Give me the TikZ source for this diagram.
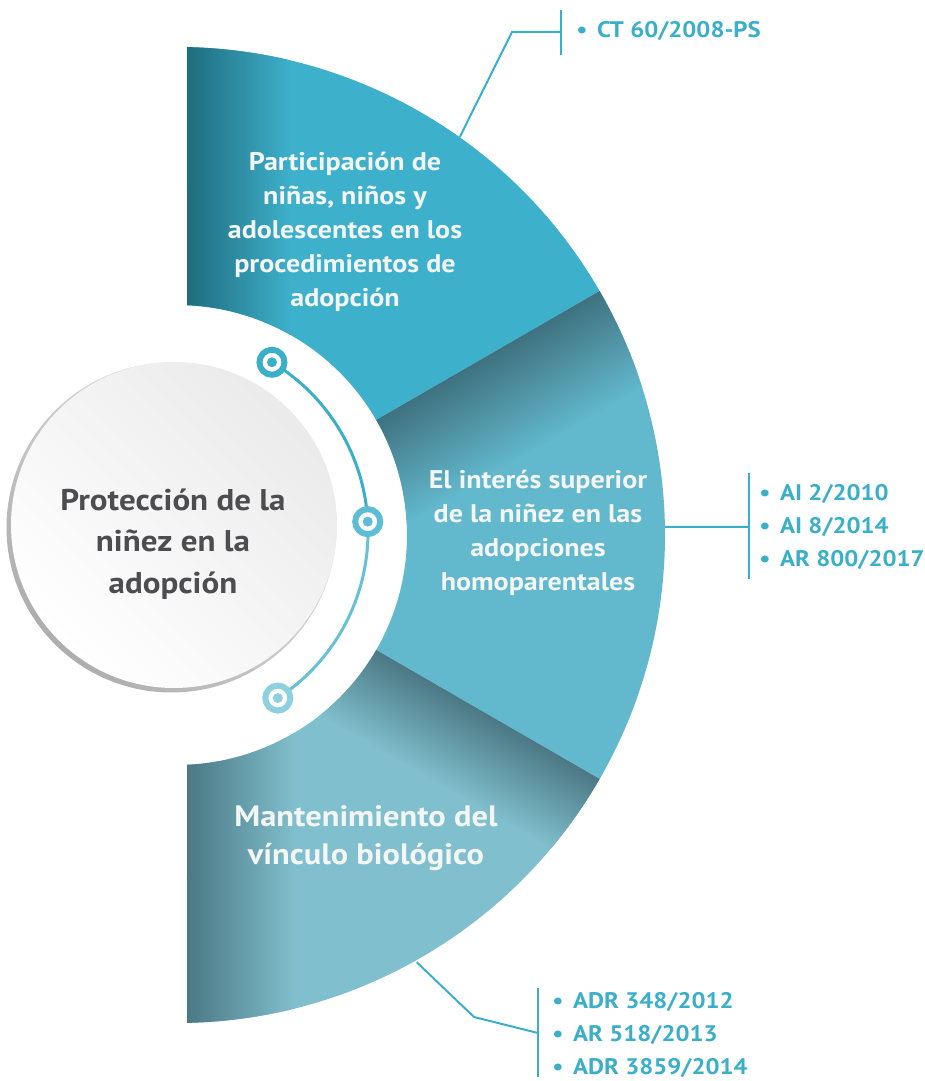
\documentclass[tikz,border=0pt]{standalone}
\usepackage{fontspec}
\setmainfont{PT Sans}[FakeStretch=1.1]
\usetikzlibrary{calc}
\definecolor{segA}{HTML}{3DB0CB}
\definecolor{segAdark}{HTML}{1F6C7D}
\definecolor{segB}{HTML}{62B8CC}
\definecolor{segBdark}{HTML}{3F7280}
\definecolor{segC}{HTML}{80BFCD}
\definecolor{segCdark}{HTML}{4B7884}
\definecolor{cite}{HTML}{3AAFC9}
\definecolor{graytext}{HTML}{4D4D4F}
\definecolor{dotA}{HTML}{3AAFC9}
\definecolor{dotB}{HTML}{5CBDD4}
\definecolor{dotC}{HTML}{8DD1E1}
\definecolor{segwhite}{HTML}{F4F6F6}
\begin{document}
\begin{tikzpicture}[x=1pt,y=1pt,
  segtext/.style={text=segwhite, font=\bfseries\fontsize{25.5}{34}\selectfont, align=center, inner sep=0},
  bigtext/.style={text=segwhite, font=\bfseries\fontsize{29.5}{38}\selectfont, align=center, inner sep=0},
  hubtext/.style={text=graytext, font=\bfseries\fontsize{30}{41.5}\selectfont, align=center, inner sep=0},
  citetext/.style={text=cite, font=\bfseries\fontsize{22.5}{33}\selectfont, anchor=base west, inner sep=0},
  bulletmark/.style={text=cite, font=\bfseries\fontsize{22.5}{33}\selectfont, anchor=base, inner sep=0},
  link/.style={draw=cite, line width=2pt},
  ringdot/.style={circle, line width=6pt, fill=white, minimum size=25pt, inner sep=0},
]
\useasboundingbox (0,0) rectangle (925,1081);
\coordinate (C) at (177,546);

% ---------- top segment
\begin{scope}
\clip ($(C)+(88.83:488)$) arc[start angle=88.83,end angle=30,radius=488]
  -- ($(C)+(30:230)$) arc[start angle=30,end angle=87.5,radius=230] -- cycle;
\fill[segA] (0,0) rectangle (925,1081);
\shade[left color=segAdark, right color=segA] (187,700) rectangle (290,1081);
\end{scope}

% ---------- middle segment
\begin{scope}
\clip ($(C)+(30:488)$) arc[start angle=30,end angle=-30,radius=488]
  -- ($(C)+(-30:230)$) arc[start angle=-30,end angle=30,radius=230] -- cycle;
\fill[segB] (0,0) rectangle (925,1081);
\begin{scope}[transform canvas={rotate around={30:(177,546)}}]
\shade[top color=segBdark, bottom color=segB] (377,441) rectangle (700,546);
\end{scope}
\end{scope}

% ---------- bottom segment
\begin{scope}
\clip ($(C)+(-30:488)$) arc[start angle=-30,end angle=-88.83,radius=488]
  -- ($(C)+(-87.5:230)$) arc[start angle=-87.5,end angle=-30,radius=230] -- cycle;
\fill[segC] (0,0) rectangle (925,1081);
\shade[left color=segCdark, right color=segC] (187,0) rectangle (295,400);
\begin{scope}[transform canvas={rotate around={-30:(177,546)}}]
\shade[top color=segCdark, bottom color=segC] (377,461) rectangle (700,546);
\end{scope}
\end{scope}

% ---------- hub circle
\node[circle, minimum size=330pt, inner sep=0, shade, top color=black!8, bottom color=black!32, shading angle=-45] (rim) at (171.5,553.5) {};
\node[circle, minimum size=326pt, inner sep=0, shade, top color=black!8, bottom color=white, shading angle=-45] (hub) at (174,556) {};
\node[hubtext] (hubt) at (173,537) {Protección de la\\niñez en la\\adopción};

% ---------- timeline arc and dots
\coordinate (A) at (170,549);
\coordinate (p1) at ($(A)+(59:198)$);
\coordinate (p2) at ($(A)+(3:198)$);
\coordinate (p3) at ($(A)+(-57:198)$);
\draw[dotA, line width=3pt] (p1) arc[start angle=59,end angle=3,radius=198];
\draw[dotB!80!dotC, line width=3pt] (p2) arc[start angle=3,end angle=-57,radius=198];
\node[ringdot, draw=dotA] (d1) at (p1) {};
\node[ringdot, draw=dotB] (d2) at (p2) {};
\node[ringdot, draw=dotC] (d3) at (p3) {};
\fill[dotA] (d1.center) circle (5);
\fill[dotB] (d2.center) circle (5);
\fill[dotC] (d3.center) circle (5);

% ---------- segment texts
\node[segtext] (ta) at (345,849) {Participación de\\niñas, niños y\\adolescentes en los\\procedimientos de\\adopción};
\node[segtext] (tb) at (538,548) {El interés superior\\de la niñez en las\\adopciones\\homoparentales};
\node[bigtext] (tc) at (366,243) {Mantenimiento del\\vínculo biológico};

% ---------- top citations
\coordinate (t0) at ($(C)+(54.6:488)$);
\coordinate (t1) at (512,1049);
\coordinate (t2) at (561,1049);
\coordinate (t3) at (561,1071);
\coordinate (t4) at (561,1026);
\draw[link] (t0) -- (t1) -- (t2);
\draw[link] (t3) -- (t4);
\node[bulletmark] (ba1) at (582,1043) {•};
\node[citetext] (ca1) at (597,1043) {CT 60/2008-PS};

% ---------- middle citations
\coordinate (m0) at ($(C)+(0.94:488)$);
\coordinate (m1) at (749,554);
\coordinate (m2) at (749,608);
\coordinate (m3) at (749,502);
\draw[link] (m0) -- (m1);
\draw[link] (m2) -- (m3);
\node[bulletmark] (bb1) at (765,580) {•};
\node[citetext] (cb1) at (780,580) {AI 2/2010};
\node[bulletmark] (bb2) at (765,547) {•};
\node[citetext] (cb2) at (780,547) {AI 8/2014};
\node[bulletmark] (bb3) at (765,514) {•};
\node[citetext] (cb3) at (780,514) {AR 800/2017};

% ---------- bottom citations
\coordinate (b0) at ($(C)+(-60.7:490)$);
\coordinate (b1) at (474,64);
\coordinate (b2) at (538,48);
\coordinate (b3) at (538,93);
\coordinate (b4) at (538,4);
\draw[link] (b0) -- (b1) -- (b2);
\draw[link] (b3) -- (b4);
\node[bulletmark] (bc1) at (558,72) {•};
\node[citetext] (cc1) at (573,72) {ADR 348/2012};
\node[bulletmark] (bc2) at (558,39) {•};
\node[citetext] (cc2) at (573,39) {AR 518/2013};
\node[bulletmark] (bc3) at (558,6) {•};
\node[citetext] (cc3) at (573,6) {ADR 3859/2014};
\end{tikzpicture}
\end{document}
